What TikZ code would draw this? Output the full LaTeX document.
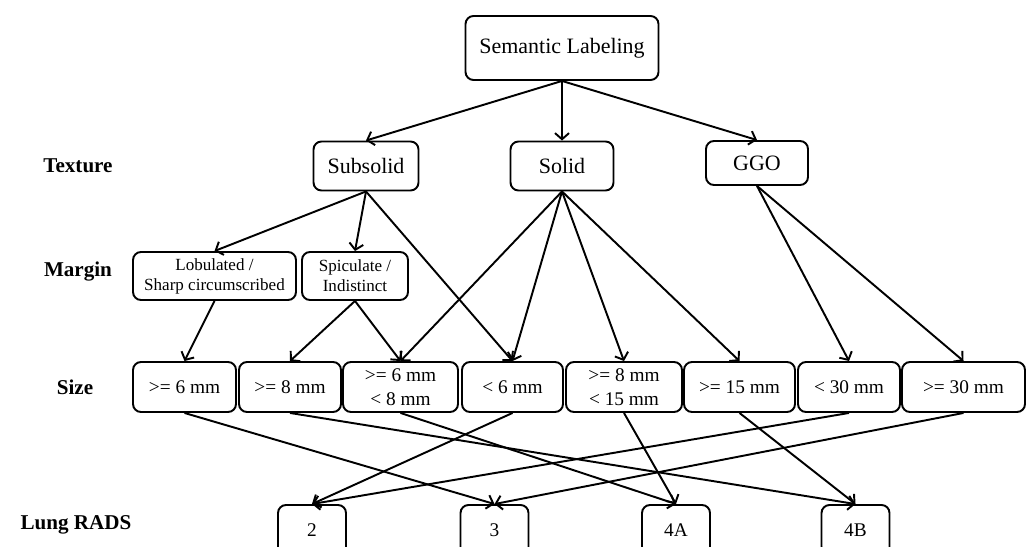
\documentclass[tikz,border=0pt]{standalone}
\usepackage{fontspec}
\setmainfont{Liberation Serif}
\usetikzlibrary{arrows.meta}

\begin{document}
\begin{tikzpicture}[
    x=0.02cm, y=-0.02cm,
    box/.style={
        % The shape:
        rectangle,
        rounded corners=0.16cm,
        % The size:
        minimum height=1cm,
        inner sep=1pt,
        % The border
        line width=1.1pt,
        draw=black,
        % Font
        font=\fontsize{12.5}{15}\selectfont
    },
    sizebox/.style={box, align=center, font=\fontsize{11}{13.7}\selectfont},
    marginbox/.style={box, minimum height=0.96cm, align=center, font=\fontsize{9.7}{11.4}\selectfont},
    radsbox/.style={box, minimum width=1.36cm, font=\fontsize{11}{13}\selectfont},
    level/.style={font=\fontsize{12}{14}\selectfont\bfseries},
    link/.style={line width=1.1pt, -{Straight Barb[length=3.5pt,width=8pt]}}
    ]

    \useasboundingbox (0,0) rectangle (1027,547);

    % row labels
    \node [level] (lTexture) at (78,166) {Texture};
    \node [level] (lMargin) at (78,272) {Margin};
    \node [level] (lSize) at (75,387) {Size};
    \node [level] (lRads) at (76,525) {Lung RADS};

    % top and texture
    \node [box, minimum width=3.86cm, minimum height=1.28cm] (root) at (562,48) {Semantic Labeling};
    \node [box, minimum width=2.1cm, minimum height=0.98cm] (subsolid) at (366,166) {Subsolid};
    \node [box, minimum width=2.06cm, minimum height=0.98cm] (solid) at (562,166) {Solid};
    \node [box, minimum width=2.04cm, minimum height=0.88cm] (ggo) at (757,163) {GGO};

    % margin
    \node [marginbox, minimum width=3.26cm] (lobulated) at (214.5,276) {Lobulated /\\Sharp circumscribed};
    \node [marginbox, minimum width=2.12cm] (spiculate) at (355,276) {Spiculate /\\Indistinct};

    % size
    \foreach \x/\w/\n/\xtext in {184.5/2.06/s1/{>= 6 mm}, 290/2.04/s2/{>= 8 mm},
        400.5/2.30/s3/{>= 6 mm\\< 8 mm}, 512.5/2.02/s4/{< 6 mm},
        624/2.32/s5/{>= 8 mm\\< 15 mm}, 739.5/2.22/s6/{>= 15 mm},
        849/2.04/s7/{< 30 mm}, 963.5/2.46/s8/{>= 30 mm}}
    {
        \node [sizebox, minimum width=\w cm] (\n) at (\x,387) {\xtext};
    }

    % lung rads
    \foreach \x/\n/\xtext in {312/r2/2, 494.5/r3/3, 676/r4A/4A, 855.5/r4B/4B}
    {
        \node [radsbox] (\n) at (\x,530) {\xtext};
    }

    % connectors
    \foreach \a/\b in {root/subsolid, root/solid, root/ggo,
        subsolid/lobulated, subsolid/spiculate, subsolid/s4,
        solid/s3, solid/s4, solid/s5, solid/s6, ggo/s7, ggo/s8,
        lobulated/s1, spiculate/s2, spiculate/s3,
        s1/r3, s2/r4B, s3/r4A, s4/r2, s5/r4A, s6/r4B, s7/r2, s8/r3}
    {
        \draw [link] (\a.south) -- (\b.north);
    }
\end{tikzpicture}
\end{document}
